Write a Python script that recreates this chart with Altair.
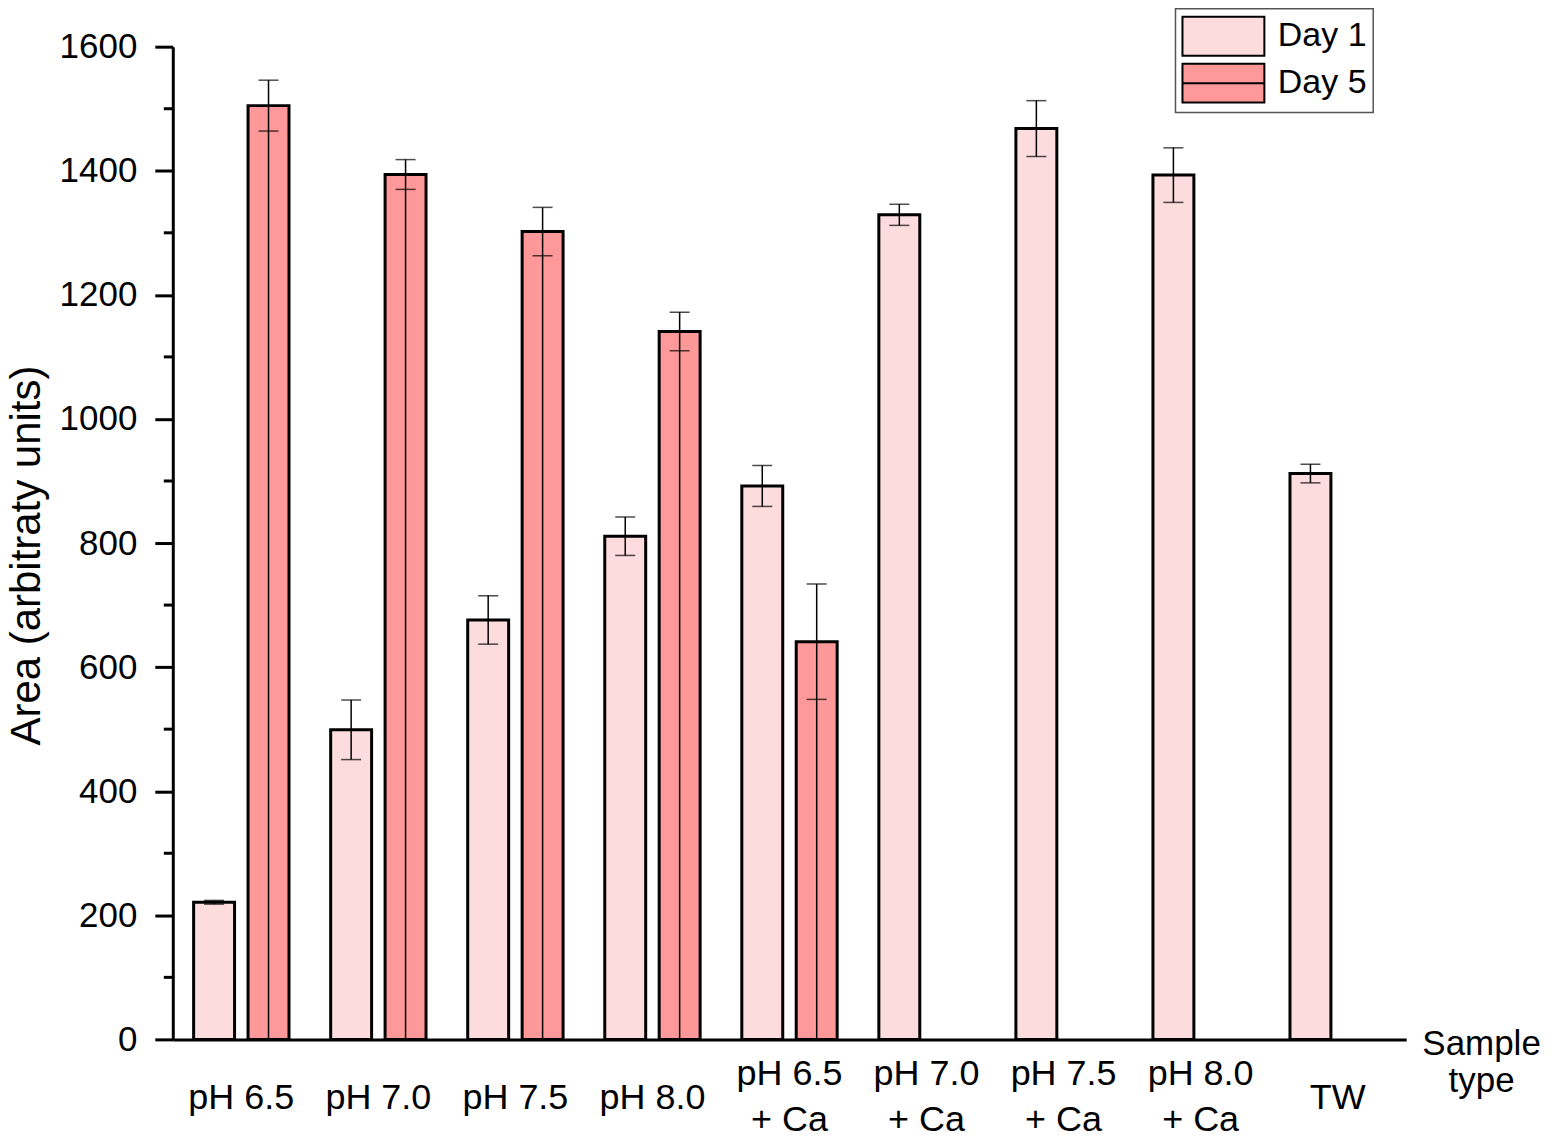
import altair as alt
import pandas as pd

# ---- data ----
samples = ["pH 6.5", "pH 7.0", "pH 7.5", "pH 8.0",
           "pH 6.5 + Ca", "pH 7.0 + Ca", "pH 7.5 + Ca", "pH 8.0 + Ca", "TW"]
day1_mean = [221, 499, 676, 811, 892, 1329, 1468, 1393, 912]
day1_err = [3, 48, 39, 31, 33, 17, 45, 44, 15]
day5_samples = ["pH 6.5", "pH 7.0", "pH 7.5", "pH 8.0", "pH 6.5 + Ca"]
day5_mean = [1505, 1394, 1302, 1141, 641]
day5_err = [41, 24, 39, 31, 93]
days = ["Day 1", "Day 5"]
colors = ["#FCDCDC", "#FF9999"]
major_ticks = [0, 200, 400, 600, 800, 1000, 1200, 1400, 1600]
minor_ticks = [100, 300, 500, 700, 900, 1100, 1300, 1500]

rows = []
for s, m, e in zip(samples, day1_mean, day1_err):
    rows.append({"sample": s, "day": "Day 1", "mean": m, "hi": m + e, "lo": m - e})
for s, m, e in zip(day5_samples, day5_mean, day5_err):
    rows.append({"sample": s, "day": "Day 5", "mean": m, "hi": m + e, "lo": m - e})
df = pd.DataFrame(rows)

FONT = "Liberation Sans"
YTITLE = "Area (arbitraty units)"
MULTI = "indexof(datum.value, ' + ') > 0"

x_enc = alt.X(
    "sample:N", sort=samples,
    scale=alt.Scale(paddingInner=0, paddingOuter=0),
    axis=alt.Axis(
        title=["Sample", "type"], titleX=1310, titleY=4, titleAngle=0,
        titleAlign="center", titleBaseline="middle", titleFontSize=35,
        titleLineHeight=37, titleFontWeight="normal", titleFont=FONT,
        ticks=False, tickSize=0, labelAngle=0, labelFontSize=36, labelFont=FONT,
        labelPadding=58,
        labelBaseline={"condition": {"test": MULTI, "value": "line-bottom"}, "value": "middle"},
        labelLineHeight=46,
        labelLimit=0, labelColor="black", domainColor="black", domainWidth=3,
        labelExpr="indexof(datum.value, ' + ') > 0 ? [substring(datum.value, 0, indexof(datum.value, ' + ')), substring(datum.value, indexof(datum.value, ' + ') + 1)] : datum.value",
    ),
)
xoff_enc = alt.XOffset("day:N", scale=alt.Scale(domain=days, paddingInner=0.2477, paddingOuter=0.383))

y_axis = alt.Axis(
    values=major_ticks, format="d", tickSize=18, tickWidth=3, tickColor="black",
    domainColor="black", domainWidth=3, labelFontSize=35, labelFont=FONT,
    labelPadding=18, labelColor="black", grid=False,
    title=YTITLE, titleFontSize=42, titleFont=FONT, titleFontWeight="normal",
    titleX=-146, titleY=509, titleAngle=-90, titleAlign="center", titleBaseline="middle",
)
y_scale = alt.Scale(domain=[0, 1600], nice=False, zero=True)


def yq(field):
    return alt.Y(field, scale=y_scale, axis=y_axis, title=YTITLE)


def leg():
    return alt.Legend(title=None, orient="none", legendX=1004, legendY=-38)


fill_enc = alt.Fill("day:N", scale=alt.Scale(domain=days, range=colors), legend=leg())
shape_enc = alt.Shape(
    "day:N",
    scale=alt.Scale(domain=days, range=[
        "M-2,-0.95H2V0.95H-2Z",
        "M-2,-0.95H2V0.95H-2Z M-2,0H2",
    ]),
    legend=leg(),
)
stroke_enc = alt.Stroke("day:N", scale=alt.Scale(domain=days, range=["black", "black"]), legend=leg())

base = alt.Chart(df)

bars = base.mark_bar().encode(
    x=x_enc, xOffset=xoff_enc, y=yq("mean:Q"), fill=fill_enc,
    stroke=alt.value("black"), strokeWidth=alt.value(3)
)
points = base.mark_point(filled=True).encode(
    x=x_enc, xOffset=xoff_enc, y=yq("mean:Q"), fill=fill_enc, shape=shape_enc,
    stroke=stroke_enc, strokeWidth=alt.value(2),
    opacity=alt.value(0)
)
rule1 = base.transform_filter("datum.day == 'Day 1'").mark_rule(
    color="black", strokeWidth=1.5
).encode(x=x_enc, xOffset=xoff_enc, y=yq("hi:Q"), y2="lo:Q")
rule5 = base.transform_filter("datum.day == 'Day 5'").mark_rule(
    color="black", strokeWidth=1.5
).encode(x=x_enc, xOffset=xoff_enc, y=yq("hi:Q"), y2=alt.datum(0))
cap_hi = base.mark_tick(color="black", size=20, thickness=1.5).encode(
    x=x_enc, xOffset=xoff_enc, y=yq("hi:Q")
)
cap_lo = base.mark_tick(color="black", size=20, thickness=1.5).encode(
    x=x_enc, xOffset=xoff_enc, y=yq("lo:Q")
)
minor = alt.Chart(pd.DataFrame({"v": minor_ticks})).mark_rule(
    color="black", strokeWidth=3
).encode(y=yq("v:Q"), x=alt.value(-9), x2=alt.value(0))

chart = alt.layer(bars, rule1, rule5, cap_hi, cap_lo, points, minor).properties(
    width=1235, height=994,
    autosize=alt.AutoSizeParams(type="none"),
    padding={"left": 165, "top": 38, "right": 140, "bottom": 93},
).configure(font=FONT).configure_view(stroke=None).configure_legend(
    padding=6, strokeColor="#555555", fillColor="white", strokeWidth=1.5,
    labelFontSize=34, labelFont=FONT, labelColor="black", labelOffset=33,
    symbolSize=1681, symbolStrokeColor="black", symbolStrokeWidth=2,
    symbolOffset=20.5, symbolOpacity=1, rowPadding=0, labelLimit=0, cornerRadius=0,
)

chart.save("out.html", embed_options={"renderer": "svg", "actions": False})
